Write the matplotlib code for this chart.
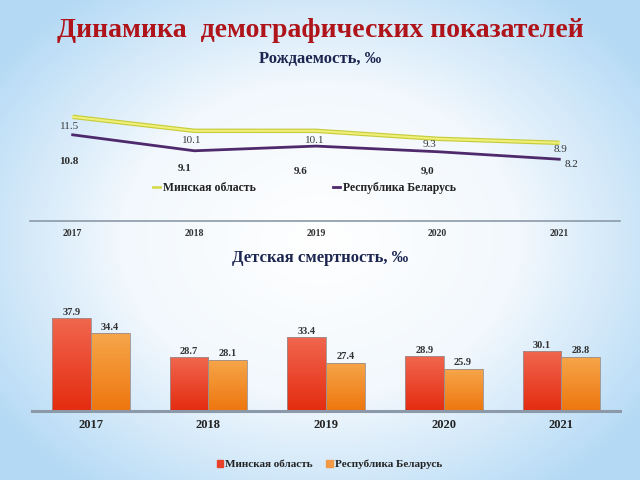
import numpy as np
import matplotlib.pyplot as plt
from matplotlib.colors import LinearSegmentedColormap
from matplotlib.lines import Line2D
from matplotlib.patches import Patch

plt.rcParams['font.family'] = ['Liberation Serif', 'DejaVu Serif']

years = ['2017', '2018', '2019', '2020', '2021']
series_names = ['Минская область', 'Республика Беларусь']

# Рождаемость
birth_minsk = [11.5, 10.1, 10.1, 9.3, 8.9]
birth_rb = [10.8, 9.1, 9.6, 9.0, 8.2]
birth_minsk_lbl = ['11.5', '10.1', '10.1', '9.3', '8.9']
birth_rb_lbl = ['10.8', '9.1', '9.6', '9,0', '8.2']

# Детская смертность
mort_minsk = [37.9, 28.7, 33.4, 28.9, 30.1]
mort_rb = [34.4, 28.1, 27.4, 25.9, 28.8]

fig = plt.figure(figsize=(6.4, 4.8), dpi=100)

# background: white centre, light blue edges
bg = fig.add_axes([0, 0, 1, 1])
yy, xx = np.mgrid[-1:1:240j, -1:1:320j]
r = np.sqrt((xx / 1.0) ** 2 + (yy / 1.05) ** 2)
bg_cmap = LinearSegmentedColormap.from_list('bg', ['#ffffff', '#f2f8fd', '#b3d9f5'])
bg.imshow(np.clip(r, 0, 1.25), cmap=bg_cmap, aspect='auto', extent=[0, 1, 0, 1])
bg.set_axis_off()

fig.text(0.5, 0.937, 'Динамика  демографических показателей', ha='center', va='center',
         fontsize=20, fontweight='bold', color='#b0141b')
fig.text(0.5, 0.878, 'Рождаемость, ‰', ha='center', va='center',
         fontsize=12, fontweight='bold', color='#1c2550')
fig.text(0.5, 0.463, 'Детская смертность, ‰', ha='center', va='center',
         fontsize=12, fontweight='bold', color='#1c2550')

# ---- line chart (Belarus on a hidden secondary axis, like the original) ----
ax1 = fig.add_axes([0.047, 0.54, 0.922, 0.252])
ax1.patch.set_alpha(0)
ax1b = ax1.twinx()
x = np.arange(len(years))
ax1.plot(x, birth_minsk, color='#c8cc3c', lw=3.2, solid_capstyle='butt')
ax1.plot(x, birth_minsk, color='#eef07a', lw=1.5)
ax1b.plot(x, birth_rb, color='#4e2a6c', lw=2)

# label offsets in points (dx, dy)
off_m = [(-2, -7), (-2, -7), (-1, -7), (-6, -4), (1, -5)]
off_r = [(-3, -19), (-7, -13), (-11, -18), (-7, -14), (9, -4)]
for i in range(len(years)):
    ax1.annotate(birth_minsk_lbl[i], (x[i], birth_minsk[i]), xytext=off_m[i],
                 textcoords='offset points', ha='center', va='center', fontsize=8, color='#3a3a3a')
    ax1b.annotate(birth_rb_lbl[i], (x[i], birth_rb[i]), xytext=off_r[i],
                  textcoords='offset points', ha='center', va='center', fontsize=8,
                  fontweight='bold' if i < 4 else 'normal', color='#2a2a2a')
ax1.set_xlim(-0.35, 4.5)
ax1.set_ylim(1.1, 13.2)
ax1b.set_ylim(1.65, 14.52)
ax1.set_yticks([])
ax1b.set_yticks([])
ax1.set_xticks(x)
ax1.set_xticklabels(years, fontsize=7, fontweight='bold', color='#333333')
ax1.tick_params(axis='x', length=0, pad=6)
for a in (ax1, ax1b):
    for s in ['top', 'left', 'right']:
        a.spines[s].set_visible(False)
ax1b.spines['bottom'].set_visible(False)
ax1.spines['bottom'].set_color('#8c99a8')
ax1.spines['bottom'].set_linewidth(1.2)
h1 = [Line2D([], [], color='#d5dc55', lw=2), Line2D([], [], color='#4e2a6c', lw=2)]
leg1 = ax1b.legend(h1, series_names, loc='center', bbox_to_anchor=(0.465, 0.27), ncol=2,
                   frameon=False, handlelength=0.6, handletextpad=0.3, columnspacing=6.5,
                   prop={'size': 8.5, 'weight': 'bold'})
for t in leg1.get_texts():
    t.set_color('#222222')

# ---- bar chart ----
ax2 = fig.add_axes([0.05, 0.144, 0.919, 0.241])
ax2.patch.set_alpha(0)
w = 0.33
bars_m = ax2.bar(x - w / 2, mort_minsk, w, color='#ea3f22', edgecolor='#9a8f8f', linewidth=0.6)
bars_r = ax2.bar(x + w / 2, mort_rb, w, color='#f28a2a', edgecolor='#9a8f8f', linewidth=0.6)

cm_red = LinearSegmentedColormap.from_list('r', ['#e42c10', '#f0664e'])
cm_org = LinearSegmentedColormap.from_list('o', ['#ee760e', '#f6a64a'])
grad = np.linspace(0, 1, 100).reshape(-1, 1)
for bars, cm in [(bars_m, cm_red), (bars_r, cm_org)]:
    for b in bars:
        x0, w0, h0 = b.get_x(), b.get_width(), b.get_height()
        im = ax2.imshow(grad, cmap=cm, origin='lower', aspect='auto',
                        extent=[x0, x0 + w0, 16, h0], zorder=b.get_zorder() + 0.1)
        im.set_clip_path(b)
        b.set_facecolor('none')
        b.set_zorder(b.get_zorder() + 0.2)
ax2.set_xlim(-0.5, 4.5)
ax2.set_ylim(16, 43.4)

for b, v in zip(bars_m, mort_minsk):
    ax2.text(b.get_x() + b.get_width() / 2, v + 0.4, f'{v:.1f}', ha='center', va='bottom',
             fontsize=7.5, fontweight='bold', color='#333333')
for b, v in zip(bars_r, mort_rb):
    ax2.text(b.get_x() + b.get_width() / 2, v + 0.4, f'{v:.1f}', ha='center', va='bottom',
             fontsize=7.5, fontweight='bold', color='#333333')

ax2.set_yticks([])
ax2.set_xticks(x)
ax2.set_xticklabels(years, fontsize=9, fontweight='bold', color='#222222')
ax2.tick_params(axis='x', length=0, pad=6)
for s in ['top', 'left', 'right']:
    ax2.spines[s].set_visible(False)
ax2.spines['bottom'].set_color('#8c99a8')
ax2.spines['bottom'].set_linewidth(2.2)

h2 = [Patch(color='#e8402a'), Patch(color='#f29a45')]
leg2 = fig.legend(h2, series_names, loc='center', bbox_to_anchor=(0.515, 0.032), ncol=2,
                  frameon=False, handlelength=0.6, handleheight=0.6, handletextpad=0.2,
                  columnspacing=1.2, prop={'size': 8, 'weight': 'bold'})
for t in leg2.get_texts():
    t.set_color('#222222')

fig.savefig('out.png', dpi=100)
